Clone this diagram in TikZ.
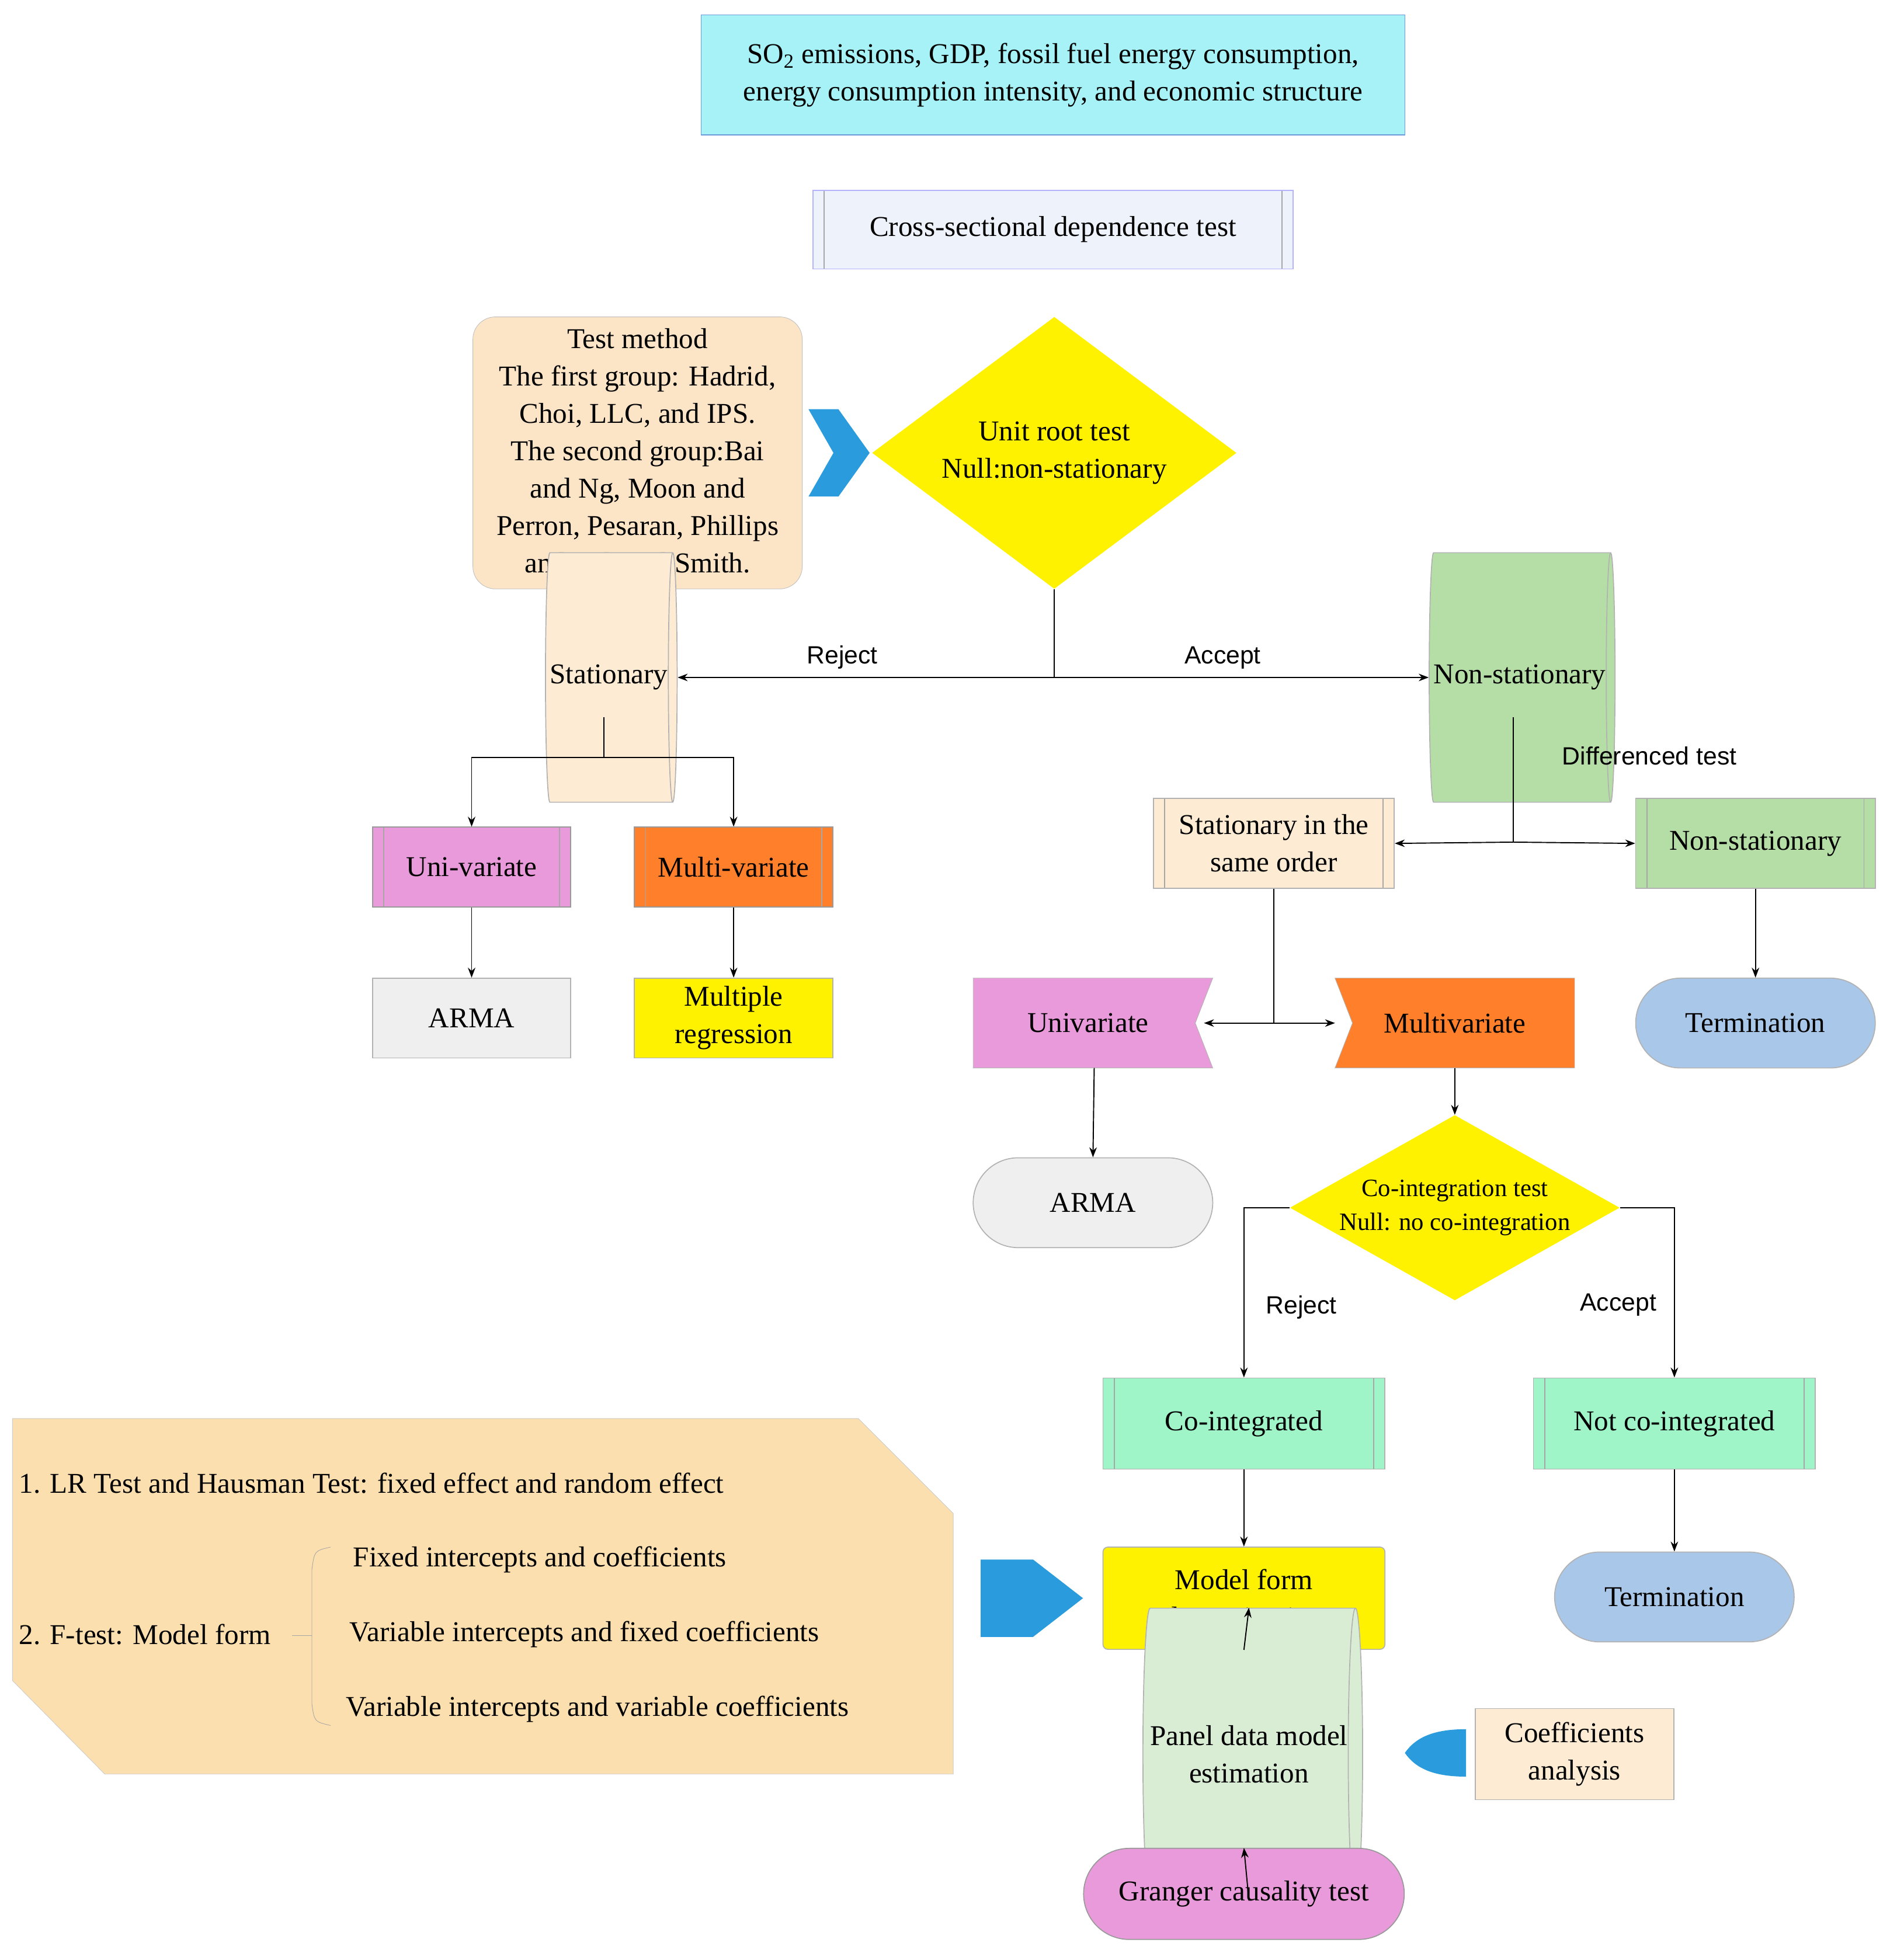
\documentclass[tikz,border=0pt]{standalone}
\usepackage{fontspec}
\setmainfont{Liberation Serif}
\newfontfamily\sansf{Liberation Sans}
\usetikzlibrary{shapes.geometric,shapes.misc,arrows.meta}
\definecolor{cyanb}{HTML}{A6F2F7}
\definecolor{csb}{HTML}{EEF2FA}
\definecolor{peach}{HTML}{FCE4C6}
\definecolor{peachl}{HTML}{FDEBD3}
\definecolor{greenn}{HTML}{B5DDA6}
\definecolor{violet}{HTML}{E99ADA}
\definecolor{orng}{HTML}{FF7F2A}
\definecolor{grayb}{HTML}{EFEFEF}
\definecolor{termb}{HTML}{A9C7E8}
\definecolor{mint}{HTML}{9FF5C8}
\definecolor{panelg}{HTML}{D9EDD5}
\definecolor{blueA}{HTML}{2A9BDD}
\definecolor{note}{HTML}{FCDFAF}
\begin{document}
\begin{tikzpicture}[x=1pt,y=-1pt,
  every node/.style={font=\fontsize{23}{30}\selectfont,align=center,inner sep=0pt},
  bx/.style={draw=gray!60,line width=0.8pt,minimum width=#1},
  proc/.style={path picture={
    \draw[gray!70,line width=0.8pt] ([xshift=9pt]path picture bounding box.north west) -- ([xshift=9pt]path picture bounding box.south west);
    \draw[gray!70,line width=0.8pt] ([xshift=-9pt]path picture bounding box.north east) -- ([xshift=-9pt]path picture bounding box.south east);}},
  cyl/.style={shape=cylinder,shape border rotate=0,aspect=0.35,cylinder uses custom fill,cylinder body fill=#1,cylinder end fill=#1,draw=gray!60,line width=0.8pt},
  stad/.style={rounded rectangle,draw=gray!60,line width=0.8pt,fill=#1},
  arr/.style={line width=0.9pt,-{Stealth[length=8pt,width=6pt]}},
  ln/.style={line width=0.9pt},
  lab/.style={font=\sansf\fontsize{20}{24}\selectfont}]
\useasboundingbox (0,0) rectangle (1520,1571);

% top
\node[bx=564pt,minimum height=96pt,fill=cyanb,draw=cyan!50!blue!60] (top) at (844,60) {SO\textsubscript{2} emissions, GDP, fossil fuel energy consumption,\\energy consumption intensity, and economic structure};
\node[bx=385pt,minimum height=63pt,fill=csb,proc,draw=blue!30] (cs) at (844,184) {Cross-sectional dependence test};
\node[diamond,fill=yellow,minimum width=292pt,minimum height=218pt,aspect=1.34] (d1) at (845,363) {Unit root test\\Null:non-stationary};
\node[rounded corners=18pt,draw=gray!50,fill=peach,minimum width=264pt,minimum height=218pt] (tm) at (511,363) {Test method\\The first group: Hadrid,\\Choi, LLC, and IPS.\\The second group:Bai\\and Ng, Moon and\\Perron, Pesaran, Phillips\\and Sul, and Smith.};
\fill[blueA] (648,328) -- (672,328) -- (697,363) -- (672,398) -- (648,398) -- (668,363) -- cycle;

\node[cyl=peachl,minimum width=200pt,minimum height=64pt] (stat) at (488,543) {Stationary};
\node[cyl=greenn,minimum width=200pt,minimum height=64pt] (nonst) at (1218,543) {Non-stationary};
\draw[ln] (d1.south) -- (845,543) coordinate (j1);
\draw[arr] (j1) -- (stat.east);
\draw[arr] (j1) -- (nonst.west);
\node[lab] at (675,527) {Reject};
\node[lab] at (980,527) {Accept};

\node[bx=159pt,minimum height=64pt,fill=violet,proc,draw=gray!80] (uni) at (378,695) {Uni-variate};
\node[bx=159pt,minimum height=64pt,fill=orng,proc,draw=gray!80] (mul) at (588,695) {Multi-variate};
\node[bx=159pt,minimum height=64pt,fill=grayb] (arma1) at (378,816) {ARMA};
\node[bx=159pt,minimum height=64pt,fill=yellow] (mreg) at (588,816) {Multiple\\regression};
\draw[ln] (484,575) -- (484,607) coordinate (j0);
\draw[arr] (j0) -| (uni.north);
\draw[arr] (j0) -| (mul.north);
\draw[arr] (uni.south) -- (arma1.north);
\draw[arr] (mul.south) -- (mreg.north);

\node[bx=193pt,minimum height=72pt,fill=peachl,proc] (same) at (1021,676) {Stationary in the\\same order};
\node[bx=192pt,minimum height=72pt,fill=greenn,proc] (nonst2) at (1407,676) {Non-stationary};
\node[stad=termb,minimum width=192pt,minimum height=72pt] (term1) at (1407,820) {Termination};
\draw[ln] (1213,575) -- (1213,675) coordinate (j2);
\draw[arr] (j2) -- (same.east);
\draw[arr] (j2) -- (nonst2.west);
\node[lab] at (1322,606) {Differenced test};
\draw[arr] (nonst2.south) -- (term1.north);

\fill[violet,draw=gray!60] (780,784) -- (972,784) -- (958,820) -- (972,856) -- (780,856) -- cycle;
\node (univ) at (872,820) {Univariate};
\fill[orng,draw=gray!60] (1070,784) -- (1262,784) -- (1262,856) -- (1070,856) -- (1084,820) -- cycle;
\node (multv) at (1166,820) {Multivariate};
\coordinate (ue) at (965,820); \coordinate (me) at (1070,820);
\draw[ln] (same.south) -- (1021,820) coordinate (j3);
\draw[arr] (j3) -- (ue);
\draw[arr] (j3) -- (me);
\node[stad=grayb,minimum width=192pt,minimum height=72pt] (arma2) at (876,964) {ARMA};
\coordinate (us) at (877,856);
\draw[arr] (us) -- (arma2.north);
\coordinate (ms) at (1166,856);
\node[diamond,fill=yellow,minimum width=256pt,minimum height=144pt,aspect=1.78,font=\fontsize{20}{27}\selectfont] (d2) at (1166,968) {Co-integration test\\Null: no co-integration};
\draw[arr] (ms) -- (d2.north);

\node[bx=226pt,minimum height=73pt,fill=mint,proc] (coint) at (997,1141) {Co-integrated};
\node[bx=226pt,minimum height=73pt,fill=mint,proc] (notco) at (1342,1141) {Not co-integrated};
\draw[arr] (d2.west) -| (coint.north);
\draw[arr] (d2.east) -| (notco.north);
\node[lab] at (1043,1048) {Reject};
\node[lab] at (1297,1046) {Accept};

\node[bx=226pt,minimum height=82pt,fill=yellow,rounded corners=4pt] (model) at (997,1281) {Model form\\determination};
\node[stad=termb,minimum width=192pt,minimum height=72pt] (term2) at (1342,1280) {Termination};
\draw[arr] (coint.south) -- (model.north);
\draw[arr] (notco.south) -- (term2.north);
\node[cyl=panelg,minimum width=234pt,minimum height=73pt,aspect=0.25] (panel) at (1001,1406) {Panel data model\\estimation};
\draw[arr] (model.south) -- (panel.north);
\node[stad=violet,minimum width=257pt,minimum height=73pt,draw=gray!80] (gr) at (997,1518) {Granger causality test};
\draw[arr] (panel.south) -- (gr.north);

\node[bx=159pt,minimum height=73pt,fill=peachl] (coef) at (1262,1406) {Coefficients\\analysis};
\fill[blueA] (1175,1386) .. controls (1150,1386) and (1135,1392) .. (1126,1405) .. controls (1135,1418) and (1150,1424) .. (1175,1424) -- cycle;
\fill[blueA] (786,1250) -- (828,1250) -- (868,1281) -- (828,1312) -- (786,1312) -- cycle;

% big note
\fill[note,draw=gray!40] (10,1137) -- (688,1137) -- (764,1213) -- (764,1422) -- (84,1422) -- (10,1347) -- cycle;
\node[anchor=west] (n1) at (15,1189) {1. LR Test and Hausman Test: fixed effect and random effect};
\node[anchor=west] (n2) at (15,1310) {2. F-test: Model form};
\draw[gray!70] (234,1311) -- (250,1311);
\draw[gray!70] (265,1240) .. controls (252,1243) .. (250,1258) -- (250,1366) .. controls (252,1380) .. (265,1383);
\node[anchor=west] (n3) at (283,1250) {Fixed intercepts and coefficients};
\node[anchor=west] (n4) at (280,1310) {Variable intercepts and fixed coefficients};
\node[anchor=west] (n5) at (277,1370) {Variable intercepts and variable coefficients};
\end{tikzpicture}
\end{document}
